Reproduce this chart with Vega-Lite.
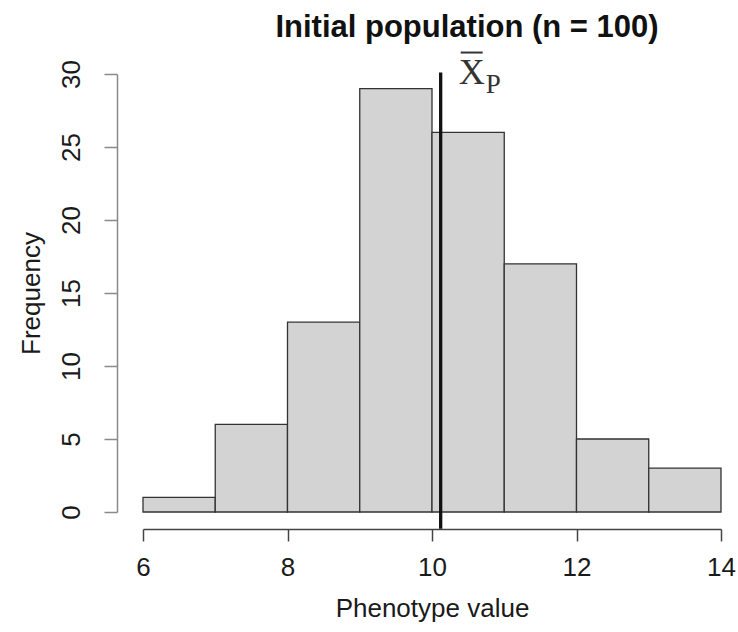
{
  "$schema": "https://vega.github.io/schema/vega-lite/v6.json",
  "autosize": "none",
  "width": 578,
  "height": 438,
  "padding": {"left": 143, "top": 74, "right": 17, "bottom": 120},
  "background": "white",
  "title": {
    "text": "Initial population (n = 100)",
    "font": "Liberation Sans",
    "fontSize": 31,
    "fontWeight": "bold",
    "color": "#111111",
    "anchor": "middle",
    "dx": 35,
    "offset": 8
  },
  "config": {
    "view": {"stroke": null},
    "axis": {
      "grid": false,
      "labelFont": "Liberation Sans",
      "titleFont": "Liberation Sans",
      "labelFontSize": 26,
      "titleFontSize": 26,
      "titleFontWeight": "normal",
      "labelColor": "#1a1a1a",
      "titleColor": "#1a1a1a",
      "domainWidth": 1.5,
      "tickWidth": 1.5
    }
  },
  "datasets": {
    "bins": [
      {"bin_start": 6, "bin_end": 7, "count": 1},
      {"bin_start": 7, "bin_end": 8, "count": 6},
      {"bin_start": 8, "bin_end": 9, "count": 13},
      {"bin_start": 9, "bin_end": 10, "count": 29},
      {"bin_start": 10, "bin_end": 11, "count": 26},
      {"bin_start": 11, "bin_end": 12, "count": 17},
      {"bin_start": 12, "bin_end": 13, "count": 5},
      {"bin_start": 13, "bin_end": 14, "count": 3}
    ],
    "mean": [
      {"mean": 10.12, "lo": -1.15, "hi": 30.1}
    ]
  },
  "layer": [
    {
      "data": {"name": "bins"},
      "mark": {"type": "rect", "fill": "#d3d3d3", "stroke": "#333333", "strokeWidth": 1.3},
      "encoding": {
        "x": {
          "field": "bin_start",
          "type": "quantitative",
          "title": "Phenotype value",
          "scale": {"domain": [6, 14], "nice": false, "zero": false},
          "axis": {
            "values": [6, 8, 10, 12, 14],
            "format": "d",
            "offset": 17,
            "tickSize": 12,
            "labelPadding": 13,
            "titlePadding": 15,
            "domainColor": "#444444",
            "tickColor": "#444444",
            "labelFlush": false
          }
        },
        "x2": {"field": "bin_end"},
        "y": {
          "field": "count",
          "type": "quantitative",
          "title": "Frequency",
          "scale": {"domain": [0, 30], "nice": false},
          "axis": {
            "values": [0, 5, 10, 15, 20, 25, 30],
            "format": "d",
            "offset": 26,
            "tickSize": 13,
            "labelAngle": 270,
            "labelPadding": 20,
            "titlePadding": 14,
            "domainColor": "#8a8a8a",
            "tickColor": "#8a8a8a",
            "labelFlush": false
          }
        },
        "y2": {"datum": 0}
      }
    },
    {
      "data": {"name": "mean"},
      "mark": {"type": "rule", "color": "#111111", "strokeWidth": 3.3},
      "encoding": {
        "x": {"field": "mean", "type": "quantitative", "title": "Phenotype value"},
        "y": {"field": "lo", "type": "quantitative", "title": "Frequency"},
        "y2": {"field": "hi"}
      }
    },
    {
      "data": {"name": "mean"},
      "mark": {
        "type": "text",
        "text": "X",
        "font": "Liberation Serif",
        "fontSize": 36,
        "color": "#333333",
        "align": "center",
        "baseline": "alphabetic",
        "dx": 31,
        "dy": 11.5
      },
      "encoding": {
        "x": {"field": "mean", "type": "quantitative", "title": "Phenotype value"},
        "y": {"field": "hi", "type": "quantitative", "title": "Frequency"}
      }
    },
    {
      "data": {"name": "mean"},
      "mark": {
        "type": "text",
        "text": "P",
        "font": "Liberation Serif",
        "fontSize": 27,
        "color": "#333333",
        "align": "left",
        "baseline": "alphabetic",
        "dx": 45,
        "dy": 20.5
      },
      "encoding": {
        "x": {"field": "mean", "type": "quantitative", "title": "Phenotype value"},
        "y": {"field": "hi", "type": "quantitative", "title": "Frequency"}
      }
    },
    {
      "data": {"name": "mean"},
      "mark": {
        "type": "rule",
        "color": "#333333",
        "strokeWidth": 2,
        "xOffset": 20,
        "x2Offset": 42,
        "yOffset": -20,
        "y2Offset": -20
      },
      "encoding": {
        "x": {"field": "mean", "type": "quantitative", "title": "Phenotype value"},
        "x2": {"field": "mean"},
        "y": {"field": "hi", "type": "quantitative", "title": "Frequency"},
        "y2": {"field": "hi"}
      }
    }
  ]
}
